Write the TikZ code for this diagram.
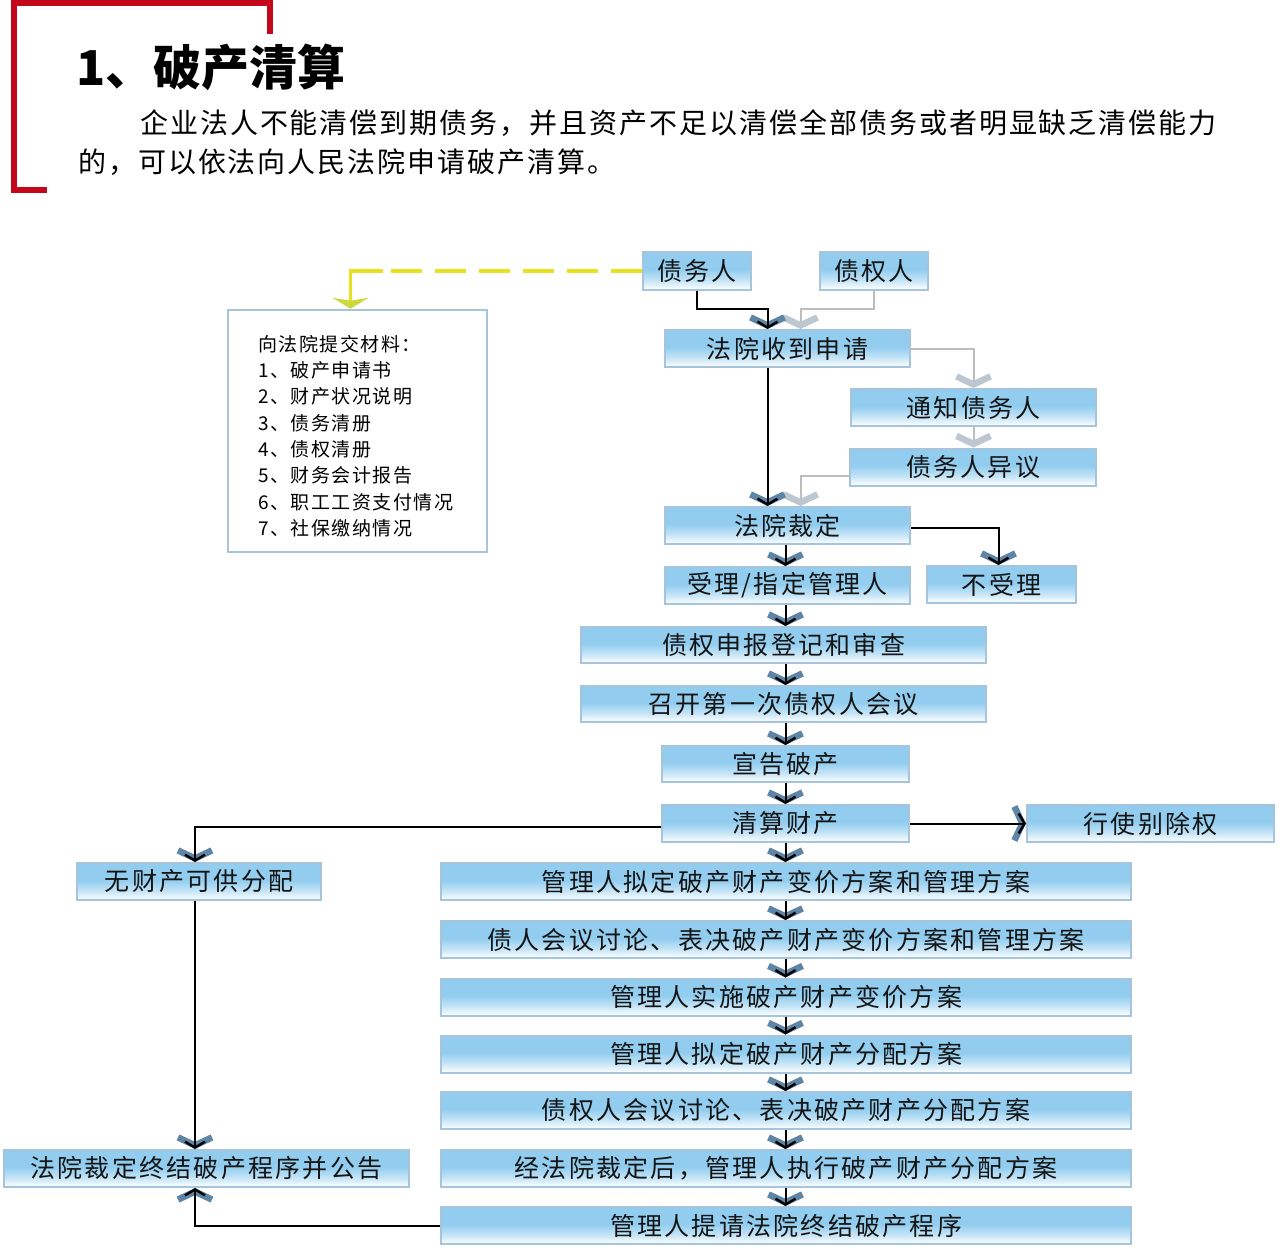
\documentclass[tikz,border=0pt]{standalone}
\usepackage{fontspec}
\setmainfont{Noto Sans CJK SC}
\newfontfamily\cjkt{Noto Sans CJK SC}
\newfontfamily\cjkp{Noto Sans CJK SC}[LetterSpace=7]
\newfontfamily\cjkb{Noto Sans CJK SC}[LetterSpace=9]
\newfontfamily\cjkm{Noto Sans CJK SC}[LetterSpace=8]
\usetikzlibrary{arrows.meta,calc}
\definecolor{boxtop}{HTML}{92CDEF}
\definecolor{boxborder}{HTML}{A6C4DC}
\definecolor{chev}{HTML}{5E84A6}
\definecolor{redc}{HTML}{C4071B}
\definecolor{yel}{HTML}{E6E21E}
\definecolor{yelchev}{HTML}{CDD83A}
\definecolor{grayl}{HTML}{BDBDBD}
\definecolor{graychev}{HTML}{BCC7D2}
\pgfdeclareverticalshading{boxshade}{100bp}{color(0bp)=(white); color(25bp)=(white); color(38bp)=(boxtop!55); color(52bp)=(boxtop); color(75bp)=(boxtop); color(100bp)=(boxtop)}
\tikzset{
  box/.style={draw=boxborder, line width=2pt, shading=boxshade, minimum height=37pt,
    inner sep=0pt, font=\cjkb\fontsize{25}{25}\selectfont, text=black!92},
  flow/.style={draw=black, line width=2pt,
    preaction={draw=black, line width=2pt, -{Straight Barb[color=chev,sharp,length=8pt,width=34pt,line width=6.5pt]}},
    -{Straight Barb[length=6pt,width=20pt,line width=2.4pt]}},
  gflow/.style={draw=grayl, line width=2pt,
    -{Straight Barb[color=graychev,sharp,length=8pt,width=34pt,line width=6.5pt]}},
  ydash/.style={draw=yel, line width=3.5pt, dash pattern=on 31pt off 13pt},
  yflow/.style={draw=yel, line width=3.5pt,
    -{Stealth[color=yelchev,length=11pt,width=36pt,inset=3pt]}},
}
\begin{document}
\begin{tikzpicture}[x=1pt,y=-1pt]
\useasboundingbox (0,0) rectangle (1280,1252);
% header
\draw[redc, line width=6pt, line join=miter] (270,34) -- (270,3) -- (14,3) -- (14,190) -- (47,190);
\node[anchor=west, inner sep=0pt, font=\cjkt\bfseries\fontsize{48}{48}\selectfont] (title) at (76,67) {1、破产清算};
\node[anchor=west, inner sep=0pt, font=\cjkp\fontsize{28}{28}\selectfont] (par1) at (140,123) {企业法人不能清偿到期债务，并且资产不足以清偿全部债务或者明显缺乏清偿能力};
\node[anchor=west, inner sep=0pt, font=\cjkp\fontsize{28}{28}\selectfont] (par2) at (78,162) {的，可以依法向人民法院申请破产清算。};
% nodes
\node[box, minimum width=108pt] (d1) at (697,271) {债务人};
\node[box, minimum width=108pt] (d2) at (874,271) {债权人};
\node[draw=boxborder, line width=2.5pt, fill=white, minimum width=259pt, minimum height=242pt,
  align=left, font=\cjkm\fontsize{19}{26.3}\selectfont] (mat) at (357.5,431) {};
\node[anchor=west, inner sep=0pt, align=left, font=\cjkm\fontsize{19}{26.3}\selectfont] (mattext) at (258,436)
  {向法院提交材料：\\1、破产申请书\\2、财产状况说明\\3、债务清册\\4、债权清册\\5、财务会计报告\\6、职工工资支付情况\\7、社保缴纳情况};
\node[box, minimum width=245pt] (sq) at (787.5,348.5) {法院收到申请};
\node[box, minimum width=245pt] (tz) at (973.5,407.5) {通知债务人};
\node[box, minimum width=246pt] (yy) at (973,467) {债务人异议};
\node[box, minimum width=245pt] (cd) at (787.5,525.5) {法院裁定};
\node[box, minimum width=245pt] (sl) at (787.5,585.5) {受理/指定管理人};
\node[box, minimum width=149pt] (bs) at (1001.5,584.5) {不受理};
\node[box, minimum width=405pt, minimum height=36pt] (zq) at (783.5,645) {债权申报登记和审查};
\node[box, minimum width=405pt, minimum height=36pt] (zk) at (783.5,704) {召开第一次债权人会议};
\node[box, minimum width=247pt, minimum height=36pt] (xg) at (785.5,764) {宣告破产};
\node[box, minimum width=247pt] (qs) at (785.5,823.5) {清算财产};
\node[box, minimum width=247pt] (xs) at (1150.5,823.5) {行使别除权};
\node[box, minimum width=244pt] (wc) at (199,881.5) {无财产可供分配};
\node[box, minimum width=690pt] (p1) at (786,881.5) {管理人拟定破产财产变价方案和管理方案};
\node[box, minimum width=690pt] (p2) at (786,939.5) {债人会议讨论、表决破产财产变价方案和管理方案};
\node[box, minimum width=690pt] (p3) at (786,997) {管理人实施破产财产变价方案};
\node[box, minimum width=690pt] (p4) at (786,1054) {管理人拟定破产财产分配方案};
\node[box, minimum width=690pt] (p5) at (786,1110.5) {债权人会议讨论、表决破产财产分配方案};
\node[box, minimum width=690pt] (p6) at (786,1168.5) {经法院裁定后，管理人执行破产财产分配方案};
\node[box, minimum width=690pt] (p7) at (786,1225.5) {管理人提请法院终结破产程序};
\node[box, minimum width=405pt] (zj) at (206.5,1168.5) {法院裁定终结破产程序并公告};
% connectors
\coordinate (yc) at ($(mat.north)+(25,0)$);
\draw[ydash] (d1.west) -- (d1.west -| yc);
\draw[yflow] (d1.west -| yc) -| ($(mat.north)+(-7,0)$);
\draw[gflow] (d2.south) -- ++(0,18) -| ($(sq.north)+(13,0)$);
\draw[flow] (d1.south) -- ++(0,18) -| ($(sq.north)+(-20,0)$);
\draw[gflow] (sq.east) -| (tz.north);
\draw[gflow] (tz.south) -- (tz.south |- yy.north);
\draw[gflow] ($(yy.west)+(0,9)$) -| ($(cd.north)+(13,0)$);
\draw[flow] ($(sq.south)+(-20,0)$) -- ($(cd.north)+(-20,0)$);
\draw[flow] ($(cd.east)+(0,2)$) -| ($(bs.north)+(-3,0)$);
\coordinate (mx) at ($(sl.south)+(-2,0)$);
\draw[flow] (mx |- cd.south) -- (mx |- sl.north);
\draw[flow] (mx |- sl.south) -- (mx |- zq.north);
\draw[flow] (mx |- zq.south) -- (mx |- zk.north);
\draw[flow] (mx |- zk.south) -- (mx |- xg.north);
\draw[flow] (mx |- xg.south) -- (mx |- qs.north);
\draw[flow] (mx |- qs.south) -- (mx |- p1.north);
\draw[flow] (mx |- p1.south) -- (mx |- p2.north);
\draw[flow] (mx |- p2.south) -- (mx |- p3.north);
\draw[flow] (mx |- p3.south) -- (mx |- p4.north);
\draw[flow] (mx |- p4.south) -- (mx |- p5.north);
\draw[flow] (mx |- p5.south) -- (mx |- p6.north);
\draw[flow] (mx |- p6.south) -- (mx |- p7.north);
\draw[flow] (qs.east) -- (xs.west);
\coordinate (lx) at ($(wc.south)+(-4,0)$);
\draw[flow] ($(qs.west)+(0,3)$) -| (lx |- wc.north);
\draw[flow] (lx) -- (lx |- zj.north);
\draw[flow] (p7.west) -| (lx |- zj.south);
\end{tikzpicture}
\end{document}
